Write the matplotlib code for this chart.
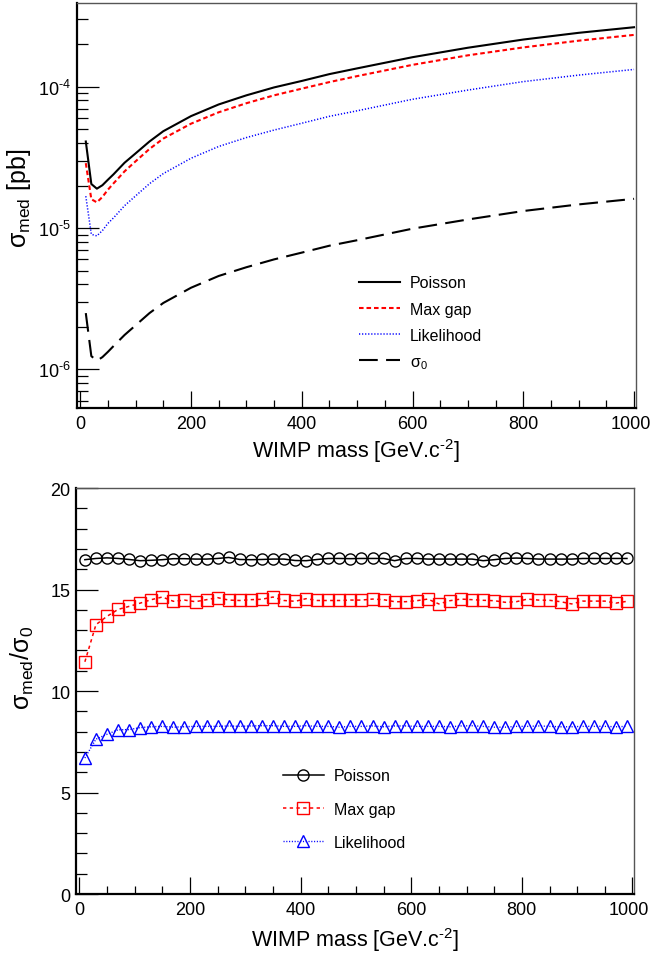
import numpy as np
import matplotlib
matplotlib.use('Agg')
import matplotlib.pyplot as plt
from matplotlib.ticker import MultipleLocator, LogLocator, NullFormatter, FuncFormatter
from matplotlib.transforms import ScaledTranslation

plt.rcParams['font.family'] = ['Liberation Sans', 'DejaVu Sans']
plt.rcParams['mathtext.fontset'] = 'custom'
plt.rcParams['mathtext.rm'] = 'Liberation Sans'
plt.rcParams['mathtext.it'] = 'Liberation Sans:italic'

# top panel: median sensitivity vs WIMP mass
mass = [10, 20, 30, 40, 50, 60, 80, 100, 125, 150, 200, 250, 300, 350,
        400, 450, 500, 600, 700, 800, 900, 1000]
poisson = [4.10e-5, 2.05e-5, 1.90e-5, 2.01e-5, 2.20e-5, 2.40e-5, 2.90e-5, 3.38e-5,
           4.10e-5, 4.85e-5, 6.20e-5, 7.50e-5, 8.70e-5, 9.90e-5, 1.10e-4, 1.23e-4,
           1.35e-4, 1.62e-4, 1.89e-4, 2.16e-4, 2.41e-4, 2.64e-4]
maxgap = [2.88e-5, 1.60e-5, 1.52e-5, 1.66e-5, 1.87e-5, 2.07e-5, 2.52e-5, 2.97e-5,
          3.63e-5, 4.30e-5, 5.48e-5, 6.60e-5, 7.65e-5, 8.70e-5, 9.70e-5, 1.08e-4,
          1.19e-4, 1.43e-4, 1.67e-4, 1.90e-4, 2.12e-4, 2.33e-4]
likelihood = [1.68e-5, 9.03e-6, 8.80e-6, 9.60e-6, 1.08e-5, 1.18e-5, 1.44e-5, 1.69e-5,
              2.06e-5, 2.43e-5, 3.12e-5, 3.78e-5, 4.37e-5, 4.94e-5, 5.52e-5, 6.18e-5,
              6.76e-5, 8.16e-5, 9.48e-5, 1.088e-4, 1.21e-4, 1.327e-4]
sigma0 = [2.50e-6, 1.24e-6, 1.15e-6, 1.22e-6, 1.33e-6, 1.46e-6, 1.75e-6, 2.05e-6,
          2.50e-6, 2.95e-6, 3.78e-6, 4.58e-6, 5.28e-6, 6.0e-6, 6.7e-6, 7.5e-6,
          8.2e-6, 9.9e-6, 11.5e-6, 13.2e-6, 14.7e-6, 16.1e-6]

# bottom panel: ratio sigma_med / sigma_0
mass2 = list(range(10, 1000, 20))
r_poisson = [16.47, 16.53, 16.56, 16.53, 16.48, 16.42, 16.44, 16.47, 16.52, 16.52,
             16.50, 16.50, 16.53, 16.58, 16.48, 16.47, 16.48, 16.50, 16.50, 16.43,
             16.42, 16.48, 16.53, 16.53, 16.52, 16.53, 16.53, 16.53, 16.42, 16.53,
             16.53, 16.50, 16.50, 16.50, 16.50, 16.50, 16.42, 16.47, 16.53, 16.55,
             16.53, 16.50, 16.50, 16.50, 16.50, 16.53, 16.53, 16.53, 16.53, 16.53]
r_maxgap = [11.44, 13.27, 13.68, 14.02, 14.17, 14.33, 14.50, 14.63, 14.42, 14.48,
            14.40, 14.50, 14.60, 14.48, 14.46, 14.50, 14.52, 14.63, 14.46, 14.42,
            14.55, 14.46, 14.46, 14.46, 14.48, 14.48, 14.53, 14.50, 14.40, 14.40,
            14.45, 14.53, 14.29, 14.45, 14.53, 14.50, 14.47, 14.45, 14.37, 14.40,
            14.53, 14.48, 14.47, 14.40, 14.29, 14.43, 14.43, 14.43, 14.33, 14.42]
r_likelihood = [6.70, 7.63, 7.87, 8.09, 8.10, 8.20, 8.24, 8.26, 8.22, 8.24,
                8.26, 8.26, 8.26, 8.28, 8.26, 8.28, 8.29, 8.29, 8.26, 8.26,
                8.29, 8.26, 8.26, 8.22, 8.26, 8.26, 8.28, 8.24, 8.28, 8.28,
                8.26, 8.26, 8.26, 8.24, 8.28, 8.29, 8.26, 8.22, 8.22, 8.26,
                8.26, 8.28, 8.26, 8.24, 8.24, 8.26, 8.26, 8.26, 8.24, 8.26]

HY = '\u2010'


def log_label(v, pos):
    e = int(round(np.log10(v)))
    return '10$^{\\mathregular{%s%d}}$' % (HY if e < 0 else '', abs(e))


def style_axes(ax, xpad):
    ax.tick_params(which='both', direction='in', top=False, right=False, colors='black',
                   labelsize=13, width=0.9)
    ax.tick_params(which='major', length=12)
    ax.tick_params(which='minor', length=6)
    ax.tick_params(axis='y', which='major', length=16, pad=4)
    ax.tick_params(axis='y', which='minor', length=8)
    ax.tick_params(axis='x', pad=5)
    for s in ['left', 'bottom']:
        ax.spines[s].set_linewidth(1.6)
        ax.spines[s].set_color('black')
    for s in ['top', 'right']:
        ax.spines[s].set_linewidth(1.0)
        ax.spines[s].set_color('#555555')
    ax.set_xlim(-6, 1003)
    ax.set_xticks([0, 200, 400, 600, 800, 1000])
    ax.xaxis.set_minor_locator(MultipleLocator(50))
    ax.set_xlabel('WIMP mass [GeV.c$^{\\mathregular{' + HY + '2}}$]', fontsize=15.5, labelpad=xpad)
    # keep the last label inside the canvas
    last = ax.get_xticklabels()[-1]
    last.set_transform(last.get_transform() + ScaledTranslation(-0.035, 0, fig.dpi_scale_trans))


fig = plt.figure(figsize=(6.52, 9.54), dpi=100)

ax1 = fig.add_axes([0.118, 0.571, 0.857, 0.4245])
ax1.plot(mass, poisson, color='black', lw=1.5, ls='-', label='Poisson')
ax1.plot(mass, maxgap, color='red', lw=1.5, ls=(0, (2.2, 1.4)), label='Max gap')
ax1.plot(mass, likelihood, color='blue', lw=1.1, ls=(0, (0.8, 1.2)), label='Likelihood')
ax1.plot(mass, sigma0, color='black', lw=1.5, ls=(0, (9, 4)), label='σ$_{\\mathregular{0}}$')
ax1.set_yscale('log')
ax1.set_ylim(5.3e-7, 3.9e-4)
ax1.yaxis.set_minor_locator(LogLocator(base=10, subs=np.arange(2, 10)))
ax1.yaxis.set_minor_formatter(NullFormatter())
ax1.yaxis.set_major_formatter(FuncFormatter(log_label))
style_axes(ax1, 3)
ax1.set_ylabel('σ$_{\\mathregular{med}}$ [pb]', fontsize=18)
ax1.yaxis.set_label_coords(-0.078, 0.52)
ax1.legend(loc='upper left', bbox_to_anchor=(0.504, 0.328), frameon=False, fontsize=11.5,
           handlelength=2.6, handletextpad=0.6, labelspacing=0.7, borderpad=0,
           borderaxespad=0)

ax2 = fig.add_axes([0.1166, 0.0618, 0.856, 0.4256])
ax2.plot(mass2, r_poisson, color='black', lw=1.1, ls='-', marker='o', ms=8,
         mfc='none', mec='black', mew=1.0, label='Poisson')
ax2.plot(mass2, r_maxgap, color='red', lw=1.1, ls=(0, (2.2, 2.2)), marker='s', ms=8,
         mfc='none', mec='red', mew=1.0, label='Max gap')
ax2.plot(mass2, r_likelihood, color='blue', lw=1.0, ls=(0, (0.8, 1.2)), marker='^', ms=9,
         mfc='none', mec='blue', mew=1.0, label='Likelihood')
ax2.set_ylim(0, 20)
ax2.yaxis.set_major_locator(MultipleLocator(5))
ax2.yaxis.set_minor_locator(MultipleLocator(1))
style_axes(ax2, 5)
ax2.set_ylabel('σ$_{\\mathregular{med}}$/σ$_{\\mathregular{0}}$', fontsize=18)
ax2.yaxis.set_label_coords(-0.072, 0.56)
ax2.legend(loc='upper left', bbox_to_anchor=(0.37, 0.31), frameon=False, fontsize=11.5,
           handlelength=2.6, handletextpad=0.6, labelspacing=1.15, borderpad=0,
           borderaxespad=0, numpoints=1)

fig.savefig('out.png', dpi=100)
